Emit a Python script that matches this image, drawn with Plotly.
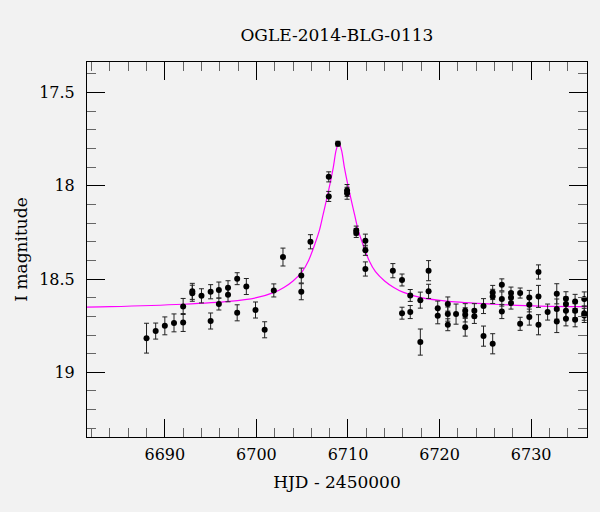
import plotly.graph_objects as go

# Observed photometry (HJD - 2450000, I magnitude, error)
hjd = [6688.0, 6689.0, 6690.0, 6691.0, 6692.0, 6692.0, 6693.0, 6693.0, 6694.0, 6695.0,
       6695.0, 6695.9, 6695.9, 6696.9, 6696.9, 6697.9, 6697.9, 6698.9, 6699.9, 6700.9,
       6701.9, 6702.9, 6704.9, 6704.9, 6705.9, 6707.9, 6707.9, 6708.9, 6709.9, 6709.9,
       6710.9, 6710.9, 6711.9, 6711.9, 6711.9, 6714.9, 6715.9, 6715.9, 6716.8, 6716.8,
       6717.9, 6717.9, 6718.8, 6718.8, 6719.8, 6719.8, 6720.9, 6720.9, 6720.9, 6721.8,
       6722.8, 6722.8, 6722.8, 6723.8, 6723.8, 6724.8, 6724.8, 6725.8, 6725.8, 6725.8,
       6726.8, 6726.8, 6726.8, 6727.8, 6727.8, 6727.8, 6728.8, 6728.8, 6729.8, 6729.8,
       6729.8, 6730.8, 6730.8, 6730.8, 6731.8, 6732.8, 6732.8, 6732.8, 6733.8, 6733.8,
       6733.8, 6733.8, 6734.8, 6734.8, 6734.8, 6735.8, 6735.8, 6735.8]
mag = [18.817, 18.779, 18.751, 18.735, 18.733, 18.647, 18.566, 18.576, 18.590, 18.568,
       18.725, 18.559, 18.634, 18.547, 18.584, 18.498, 18.681, 18.540, 18.666, 18.772,
       18.561, 18.382, 18.481, 18.568, 18.300, 17.952, 18.057, 17.774, 18.025, 18.040,
       18.240, 18.253, 18.294, 18.346, 18.446, 18.455, 18.505, 18.683, 18.588, 18.677,
       18.613, 18.838, 18.455, 18.566, 18.656, 18.697, 18.634, 18.688, 18.745, 18.688,
       18.670, 18.692, 18.758, 18.670, 18.700, 18.645, 18.806, 18.847, 18.572, 18.593,
       18.531, 18.607, 18.674, 18.575, 18.599, 18.629, 18.575, 18.740, 18.599, 18.638,
       18.704, 18.462, 18.593, 18.745, 18.677, 18.579, 18.661, 18.728, 18.606, 18.634,
       18.670, 18.713, 18.620, 18.670, 18.718, 18.607, 18.683, 18.695]
err = [0.080, 0.043, 0.048, 0.048, 0.048, 0.043, 0.043, 0.043, 0.038, 0.038,
       0.043, 0.043, 0.032, 0.038, 0.038, 0.032, 0.043, 0.043, 0.043, 0.043,
       0.035, 0.048, 0.040, 0.043, 0.038, 0.027, 0.027, 0.013, 0.032, 0.032,
       0.024, 0.024, 0.035, 0.027, 0.038, 0.038, 0.032, 0.032, 0.032, 0.035,
       0.043, 0.070, 0.054, 0.038, 0.038, 0.043, 0.038, 0.038, 0.032, 0.054,
       0.038, 0.038, 0.048, 0.038, 0.038, 0.040, 0.054, 0.054, 0.038, 0.038,
       0.032, 0.038, 0.038, 0.032, 0.032, 0.032, 0.027, 0.035, 0.038, 0.038,
       0.043, 0.038, 0.059, 0.054, 0.043, 0.054, 0.054, 0.059, 0.038, 0.038,
       0.038, 0.038, 0.038, 0.038, 0.038, 0.038, 0.038, 0.038]

# Model light curve
model_hjd = [6681.5, 6684.0, 6692.0, 6697.0, 6700.0, 6702.0, 6703.0, 6704.0, 6705.0,
             6705.7, 6706.4, 6706.9, 6707.3, 6707.7, 6708.1, 6708.4, 6708.7, 6709.0,
             6709.3, 6709.6, 6709.9, 6710.3, 6710.7, 6711.1, 6711.6, 6712.3, 6713.0,
             6714.0, 6715.0, 6716.0, 6718.0, 6721.0, 6726.0, 6731.0, 6736.5]
model_mag = [18.650, 18.648, 18.635, 18.620, 18.600, 18.570, 18.545, 18.510, 18.460,
             18.400, 18.310, 18.235, 18.150, 18.065, 17.975, 17.900, 17.810, 17.770,
             17.810, 17.900, 17.975, 18.065, 18.150, 18.235, 18.310, 18.400, 18.460,
             18.510, 18.545, 18.570, 18.600, 18.620, 18.635, 18.645, 18.648]

fig = go.Figure()
fig.add_trace(go.Scatter(
    x=model_hjd, y=model_mag, mode="lines",
    line=dict(color="#ff00ff", width=1.2, shape="spline", smoothing=0.8),
    hoverinfo="skip", showlegend=False))
fig.add_trace(go.Scatter(
    x=hjd, y=mag, mode="markers",
    marker=dict(color="black", size=6),
    error_y=dict(type="data", array=err, visible=True, color="#222", thickness=1, width=2.5),
    showlegend=False))

font_family = "DejaVu Serif"
axis_common = dict(
    showgrid=False, zeroline=False, showline=True, linecolor="black", linewidth=1,
    mirror="allticks", ticks="inside", ticklen=18, tickcolor="black", tickwidth=1,
    tickfont=dict(family=font_family, size=16, color="black"),
)
fig.update_xaxes(
    **axis_common, range=[6681.5, 6736.1], tick0=6690, dtick=10,
    title=dict(text="HJD - 2450000", font=dict(family=font_family, size=17, color="black"), standoff=12),
    minor=dict(tick0=6690, dtick=2, ticklen=9, tickcolor="#666", ticks="inside", showgrid=False),
    ticklabelstandoff=3,
)
fig.update_yaxes(
    **axis_common, range=[19.347, 17.336], tick0=17.5, dtick=0.5,
    title=dict(text="I magnitude", font=dict(family=font_family, size=17, color="black"), standoff=7),
    minor=dict(tick0=17.5, dtick=0.1, ticklen=9, tickcolor="#666", ticks="inside", showgrid=False),
    ticklabelstandoff=8,
)
fig.update_layout(
    width=600, height=512,
    margin=dict(l=87, r=13, t=62, b=75),
    paper_bgcolor="#f2f2f2", plot_bgcolor="#f2f2f2",
    title=dict(text="OGLE-2014-BLG-0113", x=0.5615, xanchor="center", y=0.932, yanchor="middle",
               font=dict(family=font_family, size=17, color="black")),
    font=dict(family=font_family, color="black"),
)
fig.write_html("out.html")
